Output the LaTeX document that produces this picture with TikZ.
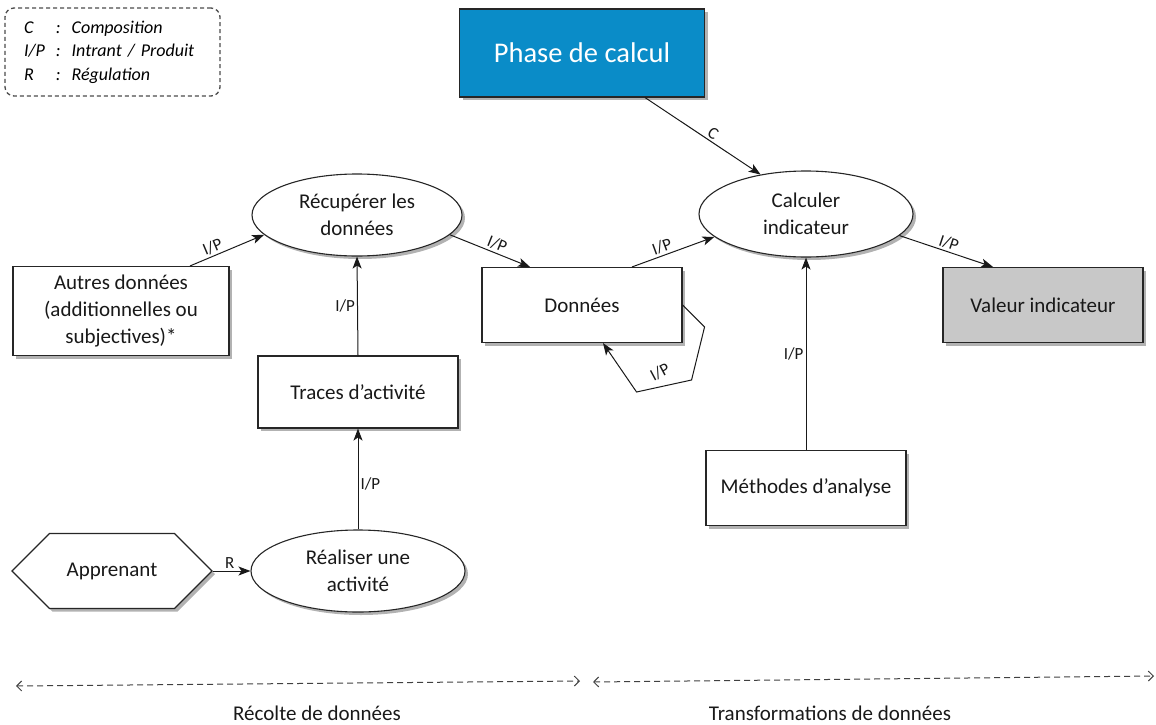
\documentclass[tikz,border=0pt]{standalone}
\usepackage{fontspec}
\setmainfont{Carlito}
\usetikzlibrary{shapes.geometric,shapes.symbols,shadows,arrows.meta}
\definecolor{phaseblue}{RGB}{10,140,200}
\definecolor{valgray}{RGB}{200,200,200}
\begin{document}
\begin{tikzpicture}[x=1pt,y=-1pt,
  txt/.style={font=\fontsize{21}{27}\selectfont, align=center, text=black!90},
  shad/.style={drop shadow={shadow xshift=3pt, shadow yshift=-3pt, opacity=0.3, fill=black}},
  box/.style={draw=black!85, line width=1.1pt, fill=white, txt, shad, inner sep=0pt},
  ell/.style={ellipse, box},
  arr/.style={-{Stealth[length=12pt,width=9pt,inset=3pt]}, line width=1pt, draw=black!90},
  lab/.style={font=\fontsize{17}{20}\selectfont, inner sep=2pt, text=black!90},
  legend/.style={draw=black!70, line width=1.3pt, dash pattern=on 4pt off 3pt, rounded corners=9pt,
     minimum height=88pt, inner xsep=19pt, text width=177pt, align=left,
     font=\fontsize{18}{23.5}\selectfont\itshape}
]
\useasboundingbox (0,0) rectangle (1156,725);

% legend
\node[legend] (legend) at (112.5,52) {\begin{tabular}{@{}l@{\hspace{11pt}}l@{\hspace{11pt}}l@{}}
C & : & Composition\\
I/P & : & Intrant / Produit\\
R & : & Régulation
\end{tabular}};

% nodes
\node[box, fill=phaseblue, minimum width=245pt, minimum height=88pt,
      font=\fontsize{28.5}{32}\selectfont, text=white] (phase) at (582,53) {Phase de calcul};
\node[ell, minimum width=210pt, minimum height=82pt] (recup) at (357,215) {Récupérer les\\données};
\node[ell, minimum width=214pt, minimum height=86pt] (calc) at (806,214) {Calculer\\indicateur};
\node[box, minimum width=216pt, minimum height=89pt] (autres) at (121,311) {Autres données\\(additionnelles ou\\subjectives)*};
\node[box, minimum width=200pt, minimum height=72pt] (traces) at (358,392) {Traces d’activité};
\node[box, minimum width=200pt, minimum height=75pt] (donnees) at (582,305) {Données};
\node[box, fill=valgray, minimum width=200pt, minimum height=75pt] (valeur) at (1043,305) {Valeur indicateur};
\node[box, minimum width=200pt, minimum height=75pt] (methodes) at (806,488) {Méthodes d’analyse};
\node[box, signal, signal to=east and west, minimum width=200pt, minimum height=75pt] (app) at (112,571) {Apprenant};
\node[ell, minimum width=214pt, minimum height=82pt] (realiser) at (358,571) {Réaliser une\\activité};

% connectors
\draw[arr] (app.east) -- node[lab, above, pos=0.45] {R} (realiser.west);
\draw[arr] (realiser.north) -- node[lab, right, pos=0.45] {I/P} (traces.south);
\draw[arr] (traces.north) -- node[lab, left, midway] {I/P} (recup.south);
\draw[arr] ([xshift=69pt]autres.north) -- node[lab, above, sloped, pos=0.35] {I/P} (recup.192);
\draw[arr] (recup.-12) -- node[lab, above, sloped, pos=0.55] {I/P} ([xshift=-52pt]donnees.north);
\draw[arr] ([xshift=50pt]donnees.north) -- node[lab, above, sloped, pos=0.4] {I/P} (calc.194);
\draw[arr] ([xshift=63pt]phase.south) -- node[lab, above, sloped, pos=0.55] {C} (calc.139);
\draw[arr] (calc.-13) -- node[lab, above, sloped, pos=0.5] {I/P} ([xshift=-50pt]valeur.north);
\draw[arr] (methodes.north) -- node[lab, left, midway] {I/P} (calc.south);
\draw[arr] (donnees.east) -- ++(22,22) -- ++(-13,53)
   -- node[lab, above, pos=0.45, rotate=28, yshift=6pt] {I/P} ++(-55,12) -- ([xshift=21pt]donnees.south);

% phases
\coordinate (r1) at (16,686);
\coordinate (r2) at (580,681);
\coordinate (t1) at (593,682);
\coordinate (t2) at (1154,676);
\draw[dashed, dash pattern=on 6pt off 4pt, line width=1pt, draw=black!75,
  {Straight Barb[length=5pt,width=10pt]}-{Straight Barb[length=5pt,width=10pt]}] (r1) -- (r2);
\draw[dashed, dash pattern=on 6pt off 4pt, line width=1pt, draw=black!75,
  {Straight Barb[length=5pt,width=10pt]}-{Straight Barb[length=5pt,width=10pt]}] (t1) -- (t2);
\node[txt] (reclab) at (317,713) {Récolte de données};
\node[txt] (trlab) at (830,713) {Transformations de données};
\end{tikzpicture}
\end{document}
